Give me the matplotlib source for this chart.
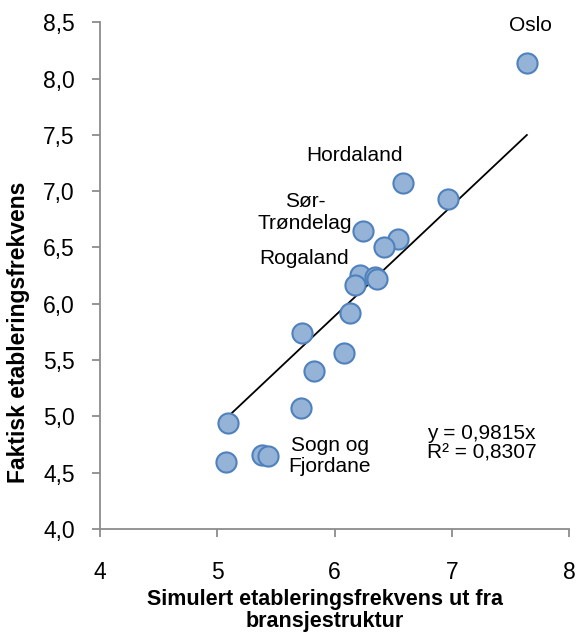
import matplotlib
matplotlib.use('Agg')
import matplotlib.pyplot as plt
from matplotlib.ticker import FuncFormatter
import numpy as np

plt.rcParams['font.family'] = ['Liberation Sans', 'DejaVu Sans']

# simulert (x) og faktisk (y) etableringsfrekvens per fylke
sim = [7.64, 6.58, 6.97, 6.24, 6.54, 6.42, 6.22, 6.345, 6.36, 6.175,
       6.13, 5.72, 6.08, 5.825, 5.71, 5.09, 5.38, 5.43, 5.075]
fakt = [8.14, 7.07, 6.93, 6.645, 6.575, 6.505, 6.255, 6.235, 6.22, 6.165,
        5.92, 5.74, 5.56, 5.40, 5.075, 4.94, 4.655, 4.648, 4.595]

labels = ['Oslo', 'Hordaland', 'Sør-\nTrøndelag', 'Rogaland', 'Sogn og\nFjordane']
label_pos = [(7.67, 8.47), (6.17, 7.32), (5.75, 6.81), (5.74, 6.405), (5.96, 4.65)]

slope = 0.9815
r2 = 0.8307

fig = plt.figure(figsize=(5.76, 6.35), dpi=100)
ax = fig.add_axes([0.1736, 0.167, 0.8144, 0.798])

ax.scatter(sim, fakt, s=210, color='#95b3d7', edgecolor='#4f81bd', linewidth=1.5, zorder=3)

xl = np.array([min(sim), max(sim)])
ax.plot(xl, slope * xl, color='black', lw=1.3, zorder=2)

for t, (x, y) in zip(labels, label_pos):
    ax.text(x, y, t, ha='center', va='center', fontsize=15, linespacing=1.15)

ax.text(6.79, 4.76, 'y = 0,9815x\nR² = 0,8307', ha='left', va='center', fontsize=15, linespacing=1.0)

ax.set_xlim(4, 8)
ax.set_ylim(4, 8.5)
ax.set_xticks([4, 5, 6, 7, 8])
ax.set_yticks(np.arange(4, 8.51, 0.5))
ax.yaxis.set_major_formatter(FuncFormatter(lambda v, p: f'{v:.1f}'.replace('.', ',')))

for s in ['top', 'right']:
    ax.spines[s].set_visible(False)
for s in ['left', 'bottom']:
    ax.spines[s].set_color('#8c8c8c')
    ax.spines[s].set_linewidth(1.3)
ax.tick_params(direction='out', length=6, width=1.3, color='#8c8c8c', labelsize=16.5)
ax.tick_params(axis='x', pad=17)
ax.tick_params(axis='y', pad=12)

ax.set_xlabel('Simulert etableringsfrekvens ut fra\nbransjestruktur', fontsize=15.5, fontweight='bold', linespacing=1.05)
ax.xaxis.set_label_coords(0.48, -0.118)
ax.set_ylabel('Faktisk etableringsfrekvens', fontsize=16.5, fontweight='bold')
ax.yaxis.set_label_coords(-0.15, 0.389)

fig.savefig('out.png', dpi=100)
